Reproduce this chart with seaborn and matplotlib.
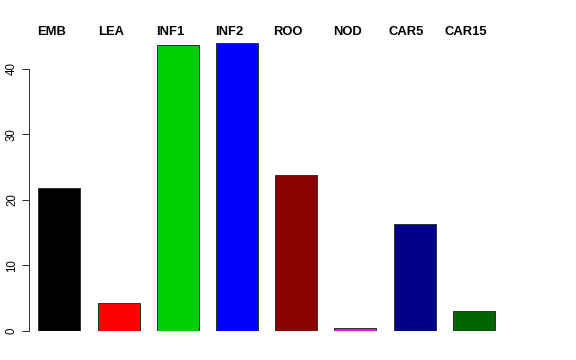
import matplotlib
matplotlib.use('Agg')
import matplotlib.pyplot as plt
import matplotlib.transforms as mtransforms
import seaborn as sns
import pandas as pd

# Values
categories = ['EMB', 'LEA', 'INF1', 'INF2', 'ROO', 'NOD', 'CAR5', 'CAR15']
values = [21.8, 4.2, 43.7, 44.0, 23.8, 0.4, 16.3, 3.05]
colors = ['#000000', '#FF0000', '#00CD00', '#0000FF', '#8B0000', '#FF00FF', '#00008B', '#006400']
yticks = [0, 10, 20, 30, 40]

df = pd.DataFrame({'group': categories, 'value': values})

sns.set_style("white")
plt.rcParams['font.family'] = ['Liberation Sans', 'DejaVu Sans']
plt.rcParams['text.color'] = 'black'
plt.rcParams['ytick.color'] = 'black'

fig = plt.figure(figsize=(8, 5), dpi=72)
ax = fig.add_axes([0.0503, 0.0806, 0.906, 0.837])

sns.barplot(data=df, x='group', y='value', hue='group', palette=colors,
            legend=False, width=0.71, edgecolor='#333333', linewidth=1.0,
            saturation=1, ax=ax)

ax.set_xlim(-0.515, 8.3)
ax.set_ylim(0, 46)
ax.set_xticks([])
ax.set_xlabel('')
ax.set_ylabel('')

# R-style axis: only the left spine, running from 0 to 40
for side in ['top', 'right', 'bottom']:
    ax.spines[side].set_visible(False)
ax.spines['left'].set_bounds(0, 40)
ax.spines['left'].set_color('#333333')
ax.spines['left'].set_linewidth(1.0)
ax.set_yticks(yticks)
ax.set_yticklabels([str(t) for t in yticks], rotation=90, va='center', fontsize=11.5)
ax.tick_params(axis='y', length=7, width=1.0, color='#333333', labelcolor='black',
               pad=4, left=True)

# group names along the top, slightly left of each bar centre
trans = mtransforms.blended_transform_factory(ax.transData, fig.transFigure)
trans = mtransforms.offset_copy(trans, fig=fig, x=-8, y=0, units='dots')
for i, name in enumerate(categories):
    ax.text(i, 0.912, name, transform=trans, ha='center', va='center',
            fontsize=13, fontweight='bold', color='black', clip_on=False)

fig.savefig('out.png', dpi=72)
